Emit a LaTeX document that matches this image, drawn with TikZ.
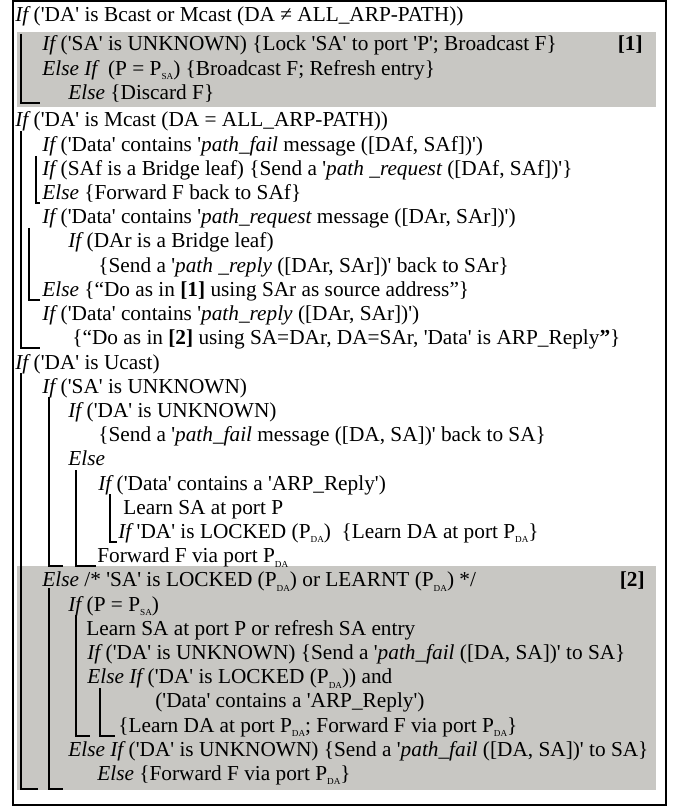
\documentclass[tikz,border=0pt]{standalone}
\usepackage{fontspec}
\newfontfamily\listfont{Liberation Serif}
\usepackage{tikz}
\definecolor{blockgray}{RGB}{200,199,195}
\newcommand\sub[1]{\raisebox{-0.45ex}{\fontsize{4.6}{5}\selectfont #1}}
\newcommand\kw[1]{{\itshape #1}}
\newcommand\codeline[3]{\node[cline] (#1) at (#2) {#3};}
\newcommand\bracket[4]{\draw[bar] (#1,#2) -- (#1,#3) -- (#4,#3);}

\begin{document}
\begin{tikzpicture}[x=0.5pt,y=-0.5pt]
\tikzstyle{cline}=[anchor=base west,inner sep=0pt,font=\listfont\fontsize{10.65}{12}\selectfont]
\tikzstyle{tag}=[anchor=base east,inner sep=0pt,font=\listfont\bfseries\fontsize{10.65}{12}\selectfont]
\tikzstyle{bar}=[line width=0.7pt]
\useasboundingbox (0,0) rectangle (677,807);
% shaded blocks [1] and [2]
\fill[blockgray] (17,32) rectangle (656,107);
\fill[blockgray] (17,566) rectangle (656,790);
\draw[line width=0.7pt] (13,1) rectangle (666,805);
% Bcast / Mcast
\codeline{l1}{15,22}{\kw{If} ('DA' is Bcast or Mcast (DA ≠ ALL\_ARP-PATH))}
\codeline{l2}{42,51}{\kw{If} ('SA' is UNKNOWN) \{Lock 'SA' to port 'P'; Broadcast F\}}
\node[tag] (t1) at (643,51) {[1]};
\codeline{l3}{42,75.5}{\kw{Else If}\ \ (P = P\sub{SA}) \{Broadcast F; Refresh entry\}}
\codeline{l4}{68,100}{\kw{Else} \{Discard F\}}
% Mcast ARP-PATH
\codeline{l5}{15,127}{\kw{If} ('DA' is Mcast (DA = ALL\_ARP-PATH))}
\codeline{l6}{42,151.2}{\kw{If} ('Data' contains '\kw{path\_fail} message ([DAf, SAf])')}
\codeline{l7}{42,175.4}{\kw{If} (SAf is a Bridge leaf) \{Send a '\kw{path \_request} ([DAf, SAf])'\}}
\codeline{l8}{42,199.6}{\kw{Else} \{Forward F back to SAf\}}
\codeline{l9}{42,223.8}{\kw{If} ('Data' contains '\kw{path\_request} message ([DAr, SAr])')}
\codeline{l10}{68,248}{\kw{If} (DAr is a Bridge leaf)}
\codeline{l11}{98,272.2}{\{Send a '\kw{path \_reply} ([DAr, SAr])' back to SAr\}}
\codeline{l12}{42,296.4}{\kw{Else} \{“Do as in \textbf{[1]} using SAr as source address”\}}
\codeline{l13}{42,320.6}{\kw{If} ('Data' contains '\kw{path\_reply} ([DAr, SAr])')}
\codeline{l14}{72,344.8}{\{“Do as in \textbf{[2]} using SA=DAr, DA=SAr, 'Data' is ARP\_Reply\textbf{”}\}}
% Ucast
\codeline{l15}{15,369}{\kw{If} ('DA' is Ucast)}
\codeline{l16}{42,393.2}{\kw{If} ('SA' is UNKNOWN)}
\codeline{l17}{68,417.4}{\kw{If} ('DA' is UNKNOWN)}
\codeline{l18}{98,441.6}{\{Send a '\kw{path\_fail} message ([DA, SA])' back to SA\}}
\codeline{l19}{68,465.8}{\kw{Else}}
\codeline{l20}{98,490}{\kw{If} ('Data' contains a 'ARP\_Reply')}
\codeline{l21}{123,514.2}{Learn SA at port P}
\codeline{l22}{118,538.4}{\kw{If} 'DA' is LOCKED (P\sub{DA})\ \ \{Learn DA at port P\sub{DA}\}}
\codeline{l23}{97,562.6}{Forward F via port P\sub{DA}}
\codeline{l24}{42,586.8}{\kw{Else} /* 'SA' is LOCKED (P\sub{DA}) or LEARNT (P\sub{DA}) */}
\node[tag] (t2) at (645,586.8) {[2]};
\codeline{l25}{68,611}{\kw{If} (P = P\sub{SA})}
\codeline{l26}{86,635.2}{Learn SA at port P or refresh SA entry}
\codeline{l27}{87,659.4}{\kw{If} ('DA' is UNKNOWN) \{Send a '\kw{path\_fail} ([DA, SA])' to SA\}}
\codeline{l28}{87,683.6}{\kw{Else If} ('DA' is LOCKED (P\sub{DA})) and}
\codeline{l29}{155,707.8}{('Data' contains a 'ARP\_Reply')}
\codeline{l30}{118,732}{\{Learn DA at port P\sub{DA}; Forward F via port P\sub{DA}\}}
\codeline{l31}{68,756.2}{\kw{Else If} ('DA' is UNKNOWN) \{Send a '\kw{path\_fail} ([DA, SA])' to SA\}}
\codeline{l32}{97,780.4}{\kw{Else} \{Forward F via port P\sub{DA}\}}
% block brackets
\bracket{21}{34}{103}{40}
\bracket{21}{131}{348}{40}
\bracket{36}{156}{203}{40}
\bracket{29}{228}{300}{40}
\bracket{21}{373}{789}{38}
\bracket{49}{397}{566}{63}
\bracket{76}{470}{566}{96}
\bracket{110}{494}{542}{117}
\bracket{49}{588}{789}{63}
\bracket{76}{615}{736}{90}
\bracket{100}{688}{736}{115}
\end{tikzpicture}
\end{document}
